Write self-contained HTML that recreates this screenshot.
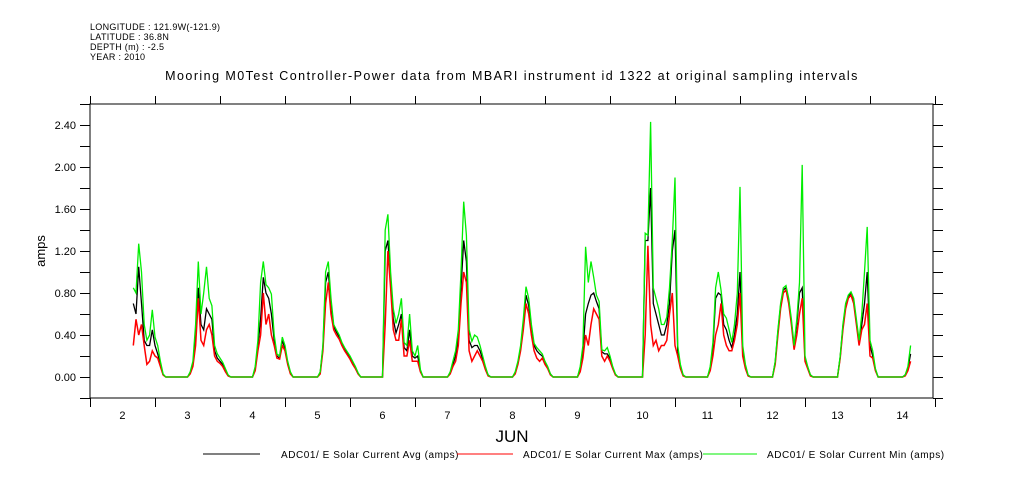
<!DOCTYPE html>
<html><head><meta charset="utf-8"><style>
html,body{margin:0;padding:0;background:#fff;}
svg{display:block;font-family:"Liberation Sans",sans-serif;}
</style></head><body>
<svg id="chart" width="1009" height="504" viewBox="0 0 1009 504" xmlns="http://www.w3.org/2000/svg">
<rect width="1009" height="504" fill="#fff"/>
<g font-size="9" fill="#000" letter-spacing="0.3">
<text x="90" y="30">LONGITUDE : 121.9W(-121.9)</text>
<text x="90" y="40">LATITUDE : 36.8N</text>
<text x="90" y="50">DEPTH (m) : -2.5</text>
<text x="90" y="60">YEAR : 2010</text>
</g>
<text x="512" y="80" text-anchor="middle" font-size="12.5" letter-spacing="1.45">Mooring M0Test Controller-Power data from MBARI instrument id 1322 at original sampling intervals</text>
<text x="45" y="251" text-anchor="middle" font-size="13" transform="rotate(-90 45 251)">amps</text>
<text x="512" y="442" text-anchor="middle" font-size="17">JUN</text>
<g id="axes"></g>
<g id="series"></g>
<g font-size="10" letter-spacing="0.55">
<line x1="203" y1="454" x2="260" y2="454" stroke="#000"/>
<text x="281" y="458">ADC01/ E Solar Current Avg (amps)</text>
<line x1="457" y1="454" x2="513" y2="454" stroke="#f00"/>
<text x="523" y="458">ADC01/ E Solar Current Max (amps)</text>
<line x1="703" y1="454" x2="757" y2="454" stroke="#0e0"/>
<text x="767" y="458">ADC01/ E Solar Current Min (amps)</text>
</g>
</svg>
<script>
const days = [2,3,4,5,6,7,8,9,10,11,12,13,14];
const startHour = [16,12,12,12,12,12,12,12,12,12,12,12,12];
const yTickLabels = ["0.00","0.40","0.80","1.20","1.60","2.00","2.40"];
const xTickLabels = ["2","3","4","5","6","7","8","9","10","11","12","13","14"];
const avgValues = [
[0.7,0.6,1.05,0.7,0.35,0.3,0.3,0.45,0.3,0.22,0.12,0.02,0],
[0,0.04,0.12,0.4,0.85,0.5,0.45,0.65,0.6,0.55,0.25,0.18,0.15,0.12,0.06,0.01,0],
[0,0.08,0.3,0.55,0.95,0.8,0.75,0.6,0.35,0.2,0.18,0.35,0.27,0.13,0.04,0,0],
[0,0.04,0.28,0.9,1.0,0.7,0.48,0.43,0.38,0.31,0.26,0.22,0.18,0.13,0.09,0.03,0],
[0,1.2,1.3,0.9,0.55,0.42,0.5,0.6,0.28,0.25,0.45,0.2,0.18,0.2,0.06,0,0],
[0,0.04,0.12,0.2,0.38,0.85,1.3,1.1,0.35,0.28,0.3,0.3,0.25,0.17,0.08,0.02,0],
[0,0.04,0.13,0.28,0.5,0.78,0.68,0.45,0.3,0.25,0.22,0.2,0.13,0.09,0.03,0,0],
[0,0.08,0.25,0.6,0.7,0.78,0.8,0.72,0.65,0.24,0.22,0.22,0.18,0.09,0.02,0,0],
[0,1.3,1.3,1.8,0.7,0.6,0.5,0.4,0.4,0.5,0.7,1.2,1.4,0.25,0.1,0.02,0],
[0,0.08,0.28,0.75,0.8,0.78,0.5,0.45,0.35,0.28,0.4,0.6,1.0,0.25,0.1,0.01,0],
[0,0.14,0.43,0.68,0.83,0.85,0.73,0.52,0.28,0.5,0.8,0.85,0.18,0.09,0.02,0,0],
[0,0.19,0.48,0.68,0.77,0.8,0.73,0.52,0.32,0.5,0.7,1.0,0.3,0.2,0.07,0,0],
[0,0.02,0.08,0.22]
];
const maxValues = [
[0.3,0.55,0.4,0.5,0.3,0.12,0.15,0.25,0.2,0.18,0.1,0.02,0],
[0,0.03,0.1,0.3,0.75,0.35,0.3,0.45,0.5,0.4,0.2,0.15,0.13,0.1,0.05,0.01,0],
[0,0.06,0.25,0.4,0.8,0.5,0.6,0.4,0.3,0.18,0.17,0.3,0.25,0.12,0.03,0,0],
[0,0.03,0.25,0.7,0.9,0.6,0.45,0.4,0.36,0.3,0.25,0.21,0.17,0.12,0.08,0.03,0],
[0,0.5,1.2,0.85,0.45,0.35,0.35,0.55,0.2,0.2,0.35,0.15,0.15,0.15,0.05,0,0],
[0,0.03,0.1,0.15,0.3,0.7,1.0,0.9,0.25,0.15,0.2,0.25,0.2,0.15,0.07,0.01,0],
[0,0.03,0.12,0.25,0.45,0.7,0.6,0.4,0.25,0.18,0.15,0.18,0.12,0.08,0.02,0,0],
[0,0.05,0.18,0.4,0.3,0.5,0.65,0.6,0.55,0.2,0.15,0.2,0.15,0.08,0.02,0,0],
[0,0.4,1.25,0.5,0.3,0.35,0.25,0.3,0.3,0.35,0.6,0.8,0.3,0.2,0.08,0.01,0],
[0,0.06,0.2,0.4,0.5,0.7,0.4,0.3,0.25,0.25,0.35,0.5,0.8,0.2,0.08,0.01,0],
[0,0.12,0.4,0.65,0.8,0.83,0.7,0.5,0.26,0.4,0.6,0.75,0.15,0.08,0.01,0,0],
[0,0.18,0.45,0.65,0.75,0.78,0.7,0.5,0.3,0.45,0.5,0.7,0.2,0.18,0.06,0,0],
[0,0.01,0.06,0.15]
];
const minValues = [
[0.85,0.8,1.27,1.0,0.5,0.35,0.4,0.64,0.38,0.3,0.15,0.03,0],
[0,0.05,0.15,0.5,1.1,0.6,0.8,1.05,0.75,0.68,0.3,0.22,0.18,0.14,0.08,0.02,0],
[0,0.1,0.35,0.9,1.1,0.88,0.85,0.79,0.4,0.22,0.2,0.38,0.3,0.15,0.05,0,0],
[0,0.05,0.3,1.0,1.1,0.75,0.5,0.45,0.4,0.33,0.28,0.24,0.2,0.15,0.1,0.04,0],
[0,1.4,1.55,1.0,0.65,0.51,0.6,0.75,0.33,0.3,0.6,0.25,0.2,0.3,0.07,0,0],
[0,0.05,0.15,0.25,0.45,1.0,1.67,1.35,0.45,0.34,0.4,0.38,0.3,0.2,0.1,0.02,0],
[0,0.05,0.15,0.3,0.55,0.86,0.75,0.5,0.32,0.28,0.25,0.22,0.15,0.1,0.03,0,0],
[0,0.1,0.3,1.24,0.9,1.1,0.95,0.78,0.72,0.26,0.25,0.28,0.2,0.1,0.03,0,0],
[0,1.37,1.35,2.43,0.85,0.75,0.65,0.5,0.5,0.57,0.85,1.3,1.9,0.3,0.12,0.02,0],
[0,0.1,0.33,0.85,1.0,0.83,0.6,0.56,0.45,0.33,0.5,0.8,1.81,0.3,0.12,0.02,0],
[0,0.15,0.45,0.7,0.85,0.87,0.75,0.55,0.3,0.55,0.9,2.02,0.2,0.1,0.02,0,0],
[0,0.2,0.5,0.7,0.78,0.81,0.75,0.55,0.35,0.6,1.0,1.43,0.35,0.25,0.08,0,0],
[0,0.02,0.1,0.3]
];

const X0=90, X1=933, Y0=398, Y1=104;
const xMin=2, xMax=14.97, yMin=-0.2, yMax=2.6;
function xScale(d){return X0+(d-xMin)/(xMax-xMin)*(X1-X0);}
function yScale(v){return Y0-(v-yMin)/(yMax-yMin)*(Y0-Y1);}
const NS="http://www.w3.org/2000/svg";
function mk(tag,attrs,parent){const e=document.createElementNS(NS,tag);for(const k in attrs)e.setAttribute(k,attrs[k]);parent.appendChild(e);return e;}
const axes=document.getElementById('axes');
const frame=mk('rect',{x:X0,y:Y1,width:X1-X0,height:Y0-Y1,fill:'none',stroke:'#000','stroke-width':1},axes);


for(let i=0;i<=xTickLabels.length;i++){
  const x=Math.round(xScale(xMin+i))+0.5;
  const tb=mk('line',{x1:x,x2:x,y1:Y0,y2:Y0+9,stroke:'#000'},axes);
  
  
  const tt=mk('line',{x1:x,x2:x,y1:Y1,y2:Y1-8,stroke:'#000'},axes);
  
  
}
xTickLabels.forEach((l,i)=>{
  const t=mk('text',{x:xScale(xMin+i+0.5),y:419,'text-anchor':'middle','font-size':11},axes);
  t.textContent=l;
  
  
});
for(let k=0;k<=14;k++){
  const v=-0.2+k*0.2;
  const y=Math.round(yScale(v))+0.5;
  const l=mk('line',{x1:X0-10,x2:X0,y1:y,y2:y,stroke:'#000'},axes);
  
  
  const r=mk('line',{x1:X1,x2:X1+10,y1:y,y2:y,stroke:'#000'},axes);
  
  
}
yTickLabels.forEach(l=>{
  const t=mk('text',{x:76,y:yScale(parseFloat(l))+4,'text-anchor':'end','font-size':11},axes);
  t.textContent=l;
  
  
});
const series=document.getElementById('series');
function pts(vals){
  const p=[];
  vals.forEach((arr,i)=>{arr.forEach((v,j)=>{p.push([xScale(days[i]+(startHour[i]+j)/24),yScale(v)]);});});
  return p.map(q=>q[0].toFixed(1)+','+q[1].toFixed(1)).join(' ');
}
const lAvg=mk('polyline',{points:pts(avgValues),fill:'none',stroke:'#000','stroke-width':1.3},series);


const lMax=mk('polyline',{points:pts(maxValues),fill:'none',stroke:'#f00','stroke-width':1.5},series);


const lMin=mk('polyline',{points:pts(minValues),fill:'none',stroke:'#0e0','stroke-width':1.3},series);


</script>
</body></html>
